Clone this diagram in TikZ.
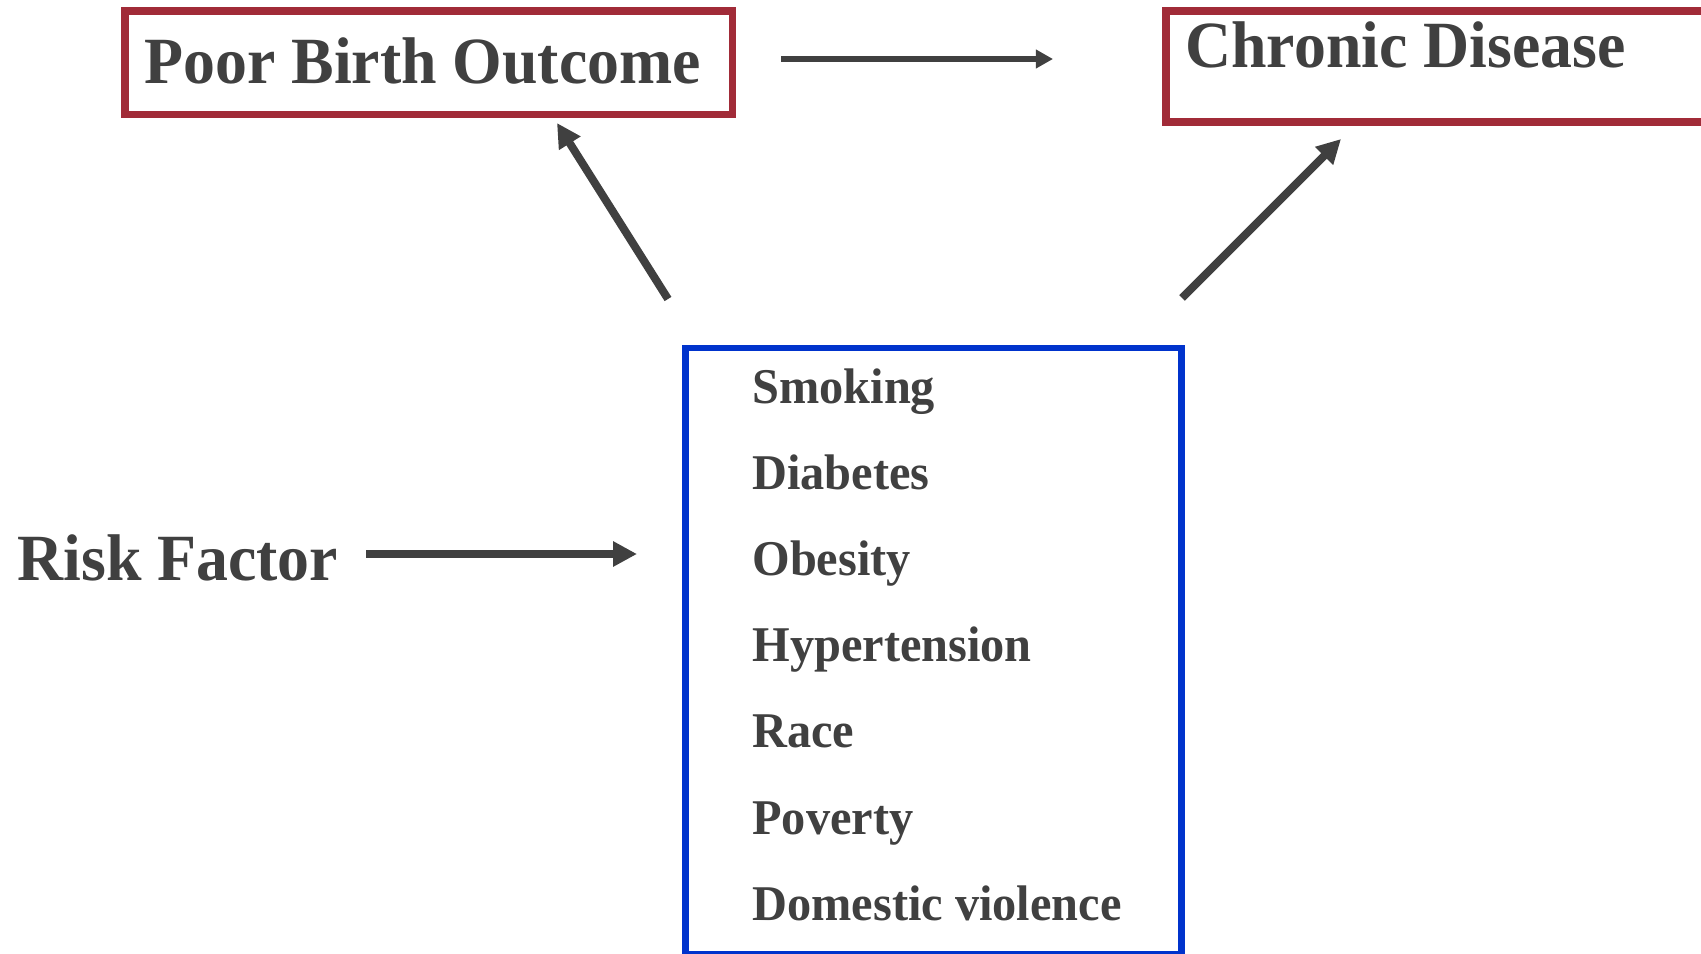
\documentclass[tikz,border=0pt]{standalone}
\usepackage{fontspec}
\usetikzlibrary{arrows.meta}
\newfontfamily\diagfont{Liberation Serif}[FakeStretch=0.967]
\definecolor{inkgray}{HTML}{404040}
\definecolor{boxred}{HTML}{A12B38}
\definecolor{boxblue}{HTML}{0033CC}
\tikzset{
  redbox/.style={draw=boxred, line width=3.7pt},
  bluebox/.style={draw=boxblue, line width=3.3pt},
  bigarrow/.style={draw=inkgray, line width=4pt, -{Triangle[length=12pt,width=12pt]}},
  thinarrow/.style={draw=inkgray, line width=3.2pt, -{Triangle[length=8.6pt,width=9pt]}},
  title/.style={anchor=base west, inner sep=0pt, text=inkgray, font=\diagfont\bfseries\fontsize{33pt}{36pt}\selectfont},
  item/.style={anchor=base west, inner sep=0pt, text=inkgray, font=\diagfont\bfseries\fontsize{25pt}{28pt}\selectfont},
}
\begin{document}
\begin{tikzpicture}[x=0.5pt, y=-0.5pt]
\useasboundingbox (0,0) rectangle (1701,953);
\clip (0,0) rectangle (1701,953);
% boxes
\draw[redbox] (125,11) rectangle (732.5,114.5);
\draw[redbox] (1166,11) rectangle (1740,122);
\draw[bluebox] (685.5,348) rectangle (1181.5,954);
% titles
\node[title] (poor) at (144,83) {Poor Birth Outcome};
\node[title] (chronic) at (1185,67) {Chronic Disease};
\node[title] (risk) at (17,580) {Risk Factor};
% list
\node[item] (smoking) at (752,403.5) {Smoking};
\node[item] (diabetes) at (752,489.6) {Diabetes};
\node[item] (obesity) at (752,575.7) {Obesity};
\node[item] (hyper) at (752,661.8) {Hypertension};
\node[item] (race) at (752,747.9) {Race};
\node[item] (poverty) at (752,834) {Poverty};
\node[item] (domestic) at (752,920.1) {Domestic violence};
% connector ends
\coordinate (pc1) at (781,59);
\coordinate (pc2) at (1053,59);
\coordinate (rf1) at (366,554);
\coordinate (rf2) at (637,554);
\coordinate (lp1) at (668,299);
\coordinate (lp2) at (557,123);
\coordinate (rc1) at (1182,298);
\coordinate (rc2) at (1341,139);
% arrows
\draw[thinarrow] (pc1) -- (pc2);
\draw[bigarrow] (rf1) -- (rf2);
\draw[bigarrow] (lp1) -- (lp2);
\draw[bigarrow] (rc1) -- (rc2);
\end{tikzpicture}
\end{document}
